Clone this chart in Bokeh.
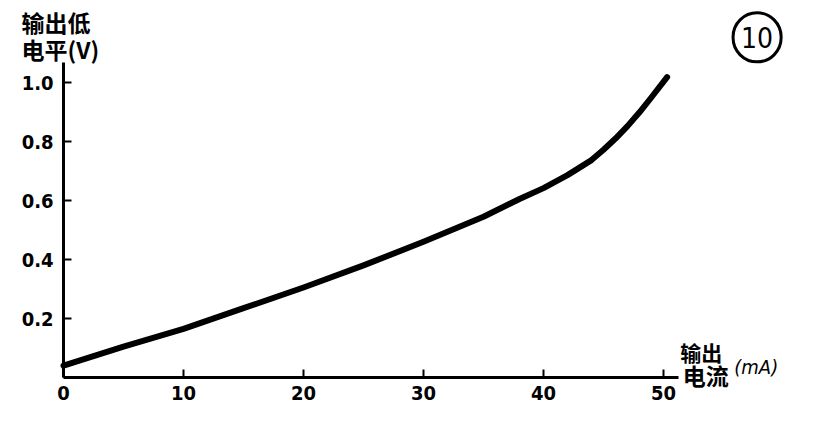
from bokeh.plotting import figure
from bokeh.models import Range1d, FixedTicker, Label, PrintfTickFormatter
from bokeh.embed import file_html
from bokeh.resources import INLINE

# data
current_ma = [0, 5, 10, 15, 20, 25, 30, 35, 38, 40, 42, 44, 45, 46, 47, 48, 49, 50.3]
low_level_v = [0.04, 0.105, 0.165, 0.235, 0.305, 0.38, 0.46, 0.545, 0.605, 0.642,
               0.686, 0.737, 0.772, 0.81, 0.852, 0.899, 0.95, 1.018]
x_ticks = [0, 10, 20, 30, 40, 50]
y_ticks = [0.2, 0.4, 0.6, 0.8, 1.0]

FONT = "DejaVu Sans Condensed"
CJK = "Noto Sans CJK SC"

W, H = 806, 420
X0, Y0, XS, YS = 63, 377, 12.0, 295.0   # pixel position of origin, px per unit

p = figure(width=W, height=H, output_backend="svg", toolbar_location=None,
           x_range=Range1d(-X0 / XS, (W - X0) / XS),
           y_range=Range1d(-(H - Y0) / YS, Y0 / YS),
           min_border=0)
p.outline_line_color = None
p.xgrid.visible = False
p.ygrid.visible = False
p.background_fill_color = "white"

p.line(current_ma, low_level_v, line_color="black", line_width=6, line_cap="round",
       line_join="round")

for ax in (p.xaxis[0], p.yaxis[0]):
    ax.fixed_location = 0
    ax.axis_line_width = 3
    ax.axis_line_color = "black"
    ax.major_tick_in = 8
    ax.major_tick_out = 0
    ax.major_tick_line_width = 2
    ax.minor_tick_line_color = None
    ax.major_label_text_font = FONT
    ax.major_label_text_font_style = "bold"
    ax.major_label_text_font_size = "20px"
    ax.major_label_text_color = "black"

p.xaxis.bounds = (0, 51.25)
p.yaxis.bounds = (0, 1.068)
p.xaxis.ticker = FixedTicker(ticks=x_ticks)
p.xaxis.major_label_standoff = 8
p.yaxis.ticker = FixedTicker(ticks=y_ticks)
p.yaxis.formatter = PrintfTickFormatter(format="%.1f")
p.yaxis.major_label_standoff = 10

def add_label(x, y, text, size, font=CJK, style="bold", align="left"):
    p.add_layout(Label(x=x, y=y, text=text, text_font=font, text_font_style=style,
                       text_font_size=size, text_align=align, text_baseline="middle",
                       text_color="black"))

# y-axis title
add_label(-3.5, 1.206, "输出低", "23px")
add_label(-3.5, 1.115, "电平(V)", "23px")
# x-axis title
add_label(51.4, 0.088, "输出", "21px")
add_label(51.6, 0.007, "电流", "23px")
add_label(55.9, 0.034, "(mA)", "20px", font="DejaVu Sans Condensed", style="italic")

# circled figure number
p.add_layout(Label(x=57.8, y=1.153, text="10", text_font=FONT, text_font_size="28px",
                   text_align="center", text_baseline="middle", text_color="black",
                   padding=dict(left=8, right=8, top=14, bottom=14),
                   border_line_color="black", border_line_width=3,
                   border_radius=24))

open("out.html", "w").write(file_html(p, INLINE))
